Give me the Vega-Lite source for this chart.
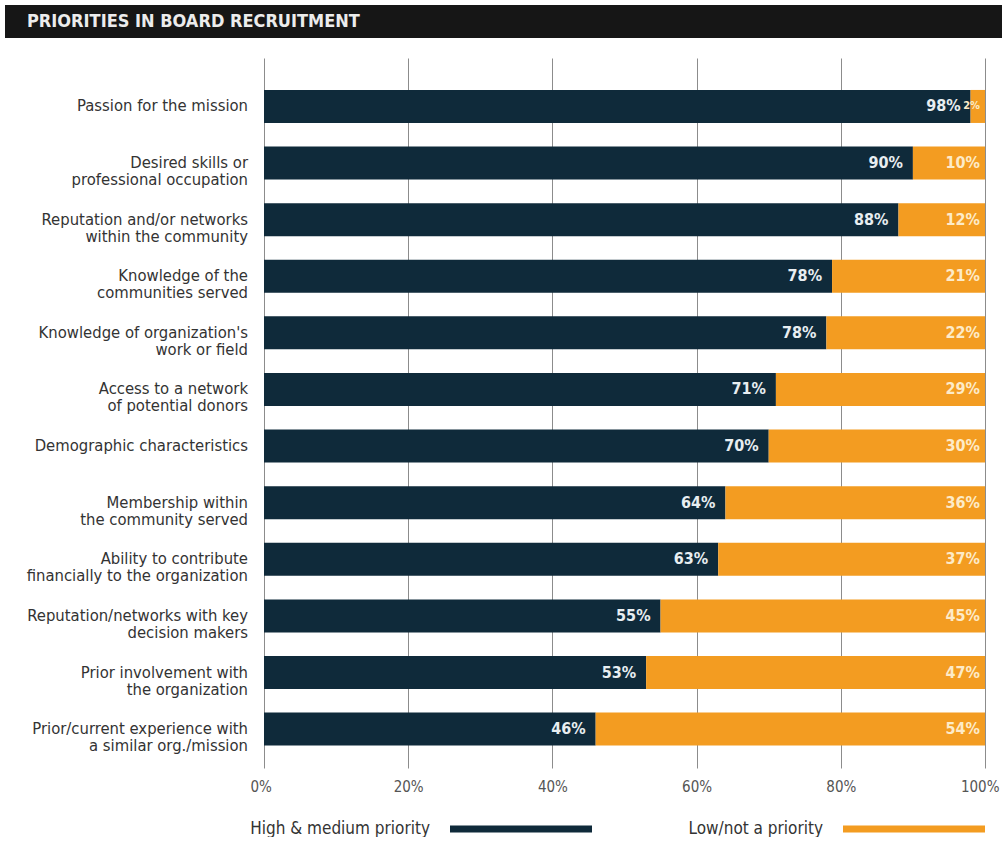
{
  "$schema": "https://vega.github.io/schema/vega-lite/v6.json",
  "background": "white",
  "padding": {"left": 5, "top": 5, "right": 0, "bottom": 0},
  "spacing": 20,
  "config": {"view": {"stroke": null}, "font": "DejaVu Sans Condensed"},
  "datasets": {
    "rows": [
      {"rank": 1, "series": "High & medium priority", "order": 1, "value": 0.98},
      {"rank": 1, "series": "Low/not a priority", "order": 2, "value": 0.02},
      {"rank": 2, "series": "High & medium priority", "order": 1, "value": 0.90},
      {"rank": 2, "series": "Low/not a priority", "order": 2, "value": 0.10},
      {"rank": 3, "series": "High & medium priority", "order": 1, "value": 0.88},
      {"rank": 3, "series": "Low/not a priority", "order": 2, "value": 0.12},
      {"rank": 4, "series": "High & medium priority", "order": 1, "value": 0.78},
      {"rank": 4, "series": "Low/not a priority", "order": 2, "value": 0.21},
      {"rank": 5, "series": "High & medium priority", "order": 1, "value": 0.78},
      {"rank": 5, "series": "Low/not a priority", "order": 2, "value": 0.22},
      {"rank": 6, "series": "High & medium priority", "order": 1, "value": 0.71},
      {"rank": 6, "series": "Low/not a priority", "order": 2, "value": 0.29},
      {"rank": 7, "series": "High & medium priority", "order": 1, "value": 0.70},
      {"rank": 7, "series": "Low/not a priority", "order": 2, "value": 0.30},
      {"rank": 8, "series": "High & medium priority", "order": 1, "value": 0.64},
      {"rank": 8, "series": "Low/not a priority", "order": 2, "value": 0.36},
      {"rank": 9, "series": "High & medium priority", "order": 1, "value": 0.63},
      {"rank": 9, "series": "Low/not a priority", "order": 2, "value": 0.37},
      {"rank": 10, "series": "High & medium priority", "order": 1, "value": 0.55},
      {"rank": 10, "series": "Low/not a priority", "order": 2, "value": 0.45},
      {"rank": 11, "series": "High & medium priority", "order": 1, "value": 0.53},
      {"rank": 11, "series": "Low/not a priority", "order": 2, "value": 0.47},
      {"rank": 12, "series": "High & medium priority", "order": 1, "value": 0.46},
      {"rank": 12, "series": "Low/not a priority", "order": 2, "value": 0.54}
    ],
    "cats": [
      {"rank": 1, "lines": ["Passion for the mission"]},
      {"rank": 2, "lines": ["Desired skills or", "professional occupation"]},
      {"rank": 3, "lines": ["Reputation and/or networks", "within the community"]},
      {"rank": 4, "lines": ["Knowledge of the", "communities served"]},
      {"rank": 5, "lines": ["Knowledge of organization's", "work or field"]},
      {"rank": 6, "lines": ["Access to a network", "of potential donors"]},
      {"rank": 7, "lines": ["Demographic characteristics"]},
      {"rank": 8, "lines": ["Membership within", "the community served"]},
      {"rank": 9, "lines": ["Ability to contribute", "financially to the organization"]},
      {"rank": 10, "lines": ["Reputation/networks with key", "decision makers"]},
      {"rank": 11, "lines": ["Prior involvement with", "the organization"]},
      {"rank": 12, "lines": ["Prior/current experience with", "a similar org./mission"]}
    ]
  },
  "vconcat": [
    {
      "width": 997,
      "height": 33,
      "view": {"fill": "#161616", "stroke": null},
      "data": {"values": [{"title": "PRIORITIES IN BOARD RECRUITMENT", "pos": 0}]},
      "mark": {"type": "text", "align": "left", "baseline": "middle", "dx": 22, "color": "#ececec", "fontSize": 18, "fontWeight": "bold"},
      "encoding": {
        "x": {"field": "pos", "type": "quantitative", "scale": {"domain": [0, 1]}, "axis": null},
        "text": {"field": "title"}
      }
    },
    {
      "width": 980,
      "height": 710,
      "layer": [
        {
          "data": {"name": "rows"},
          "transform": [
            {"stack": "value", "groupby": ["rank"], "offset": "normalize", "sort": [{"field": "order", "order": "ascending"}], "as": ["x0", "x1"]}
          ],
          "mark": {"type": "bar"},
          "encoding": {
            "y": {"field": "rank", "type": "ordinal", "axis": null, "scale": {"paddingInner": 0.417, "paddingOuter": 0.48, "align": 0.588}},
            "x": {"field": "x0", "type": "quantitative", "scale": {"domain": [0, 1], "range": [259, 980]},
              "axis": {"values": [0, 0.2, 0.4, 0.6, 0.8, 1], "format": ".0%", "grid": true, "gridColor": "#8c8c8c", "gridWidth": 1, "domain": false, "ticks": false, "labelFlush": true, "labelFlushOffset": 14, "labelPadding": 11, "labelFontSize": 15, "labelColor": "#555555", "title": null}},
            "x2": {"field": "x1"},
            "color": {"field": "series", "type": "nominal",
              "scale": {"domain": ["High & medium priority", "Low/not a priority"], "range": ["#0f2a3a", "#f39c21"]},
              "legend": {"orient": "none", "legendX": 445, "legendY": 753, "direction": "horizontal", "title": null,
                "symbolType": "M-1,-0.05H1V0.05H-1Z", "symbolSize": 20164, "symbolStrokeWidth": 0,
                "labelAlign": "right", "labelOffset": -162, "columnPadding": 96, "labelFontSize": 17, "labelColor": "#333333", "labelLimit": 300}}
          }
        },
        {
          "data": {"name": "rows"},
          "transform": [
            {"stack": "value", "groupby": ["rank"], "offset": "normalize", "sort": [{"field": "order", "order": "ascending"}], "as": ["x0", "x1"]},
            {"filter": "datum.order === 1"}
          ],
          "mark": {"type": "text", "align": "right", "baseline": "middle", "dx": -10, "fontSize": 16, "fontWeight": "bold", "color": "#e8eef1"},
          "encoding": {
            "y": {"field": "rank", "type": "ordinal"},
            "x": {"field": "x1", "type": "quantitative"},
            "text": {"field": "value", "format": ".0%"}
          }
        },
        {
          "data": {"name": "rows"},
          "transform": [
            {"stack": "value", "groupby": ["rank"], "offset": "normalize", "sort": [{"field": "order", "order": "ascending"}], "as": ["x0", "x1"]},
            {"filter": "datum.order === 2"}
          ],
          "mark": {"type": "text", "align": "right", "baseline": "middle", "dx": -5, "fontWeight": "bold", "color": "#fdebc8"},
          "encoding": {
            "y": {"field": "rank", "type": "ordinal"},
            "x": {"field": "x1", "type": "quantitative"},
            "text": {"field": "value", "format": ".0%"},
            "size": {"condition": {"test": "datum.value < 0.05", "value": 11}, "value": 16}
          }
        },
        {
          "data": {"name": "cats"},
          "mark": {"type": "text", "align": "right", "baseline": "middle", "dx": -16, "fontSize": 16.5, "lineHeight": 17, "color": "#333333"},
          "encoding": {
            "y": {"field": "rank", "type": "ordinal"},
            "x": {"datum": 0, "type": "quantitative"},
            "text": {"field": "lines"}
          }
        }
      ]
    }
  ]
}
